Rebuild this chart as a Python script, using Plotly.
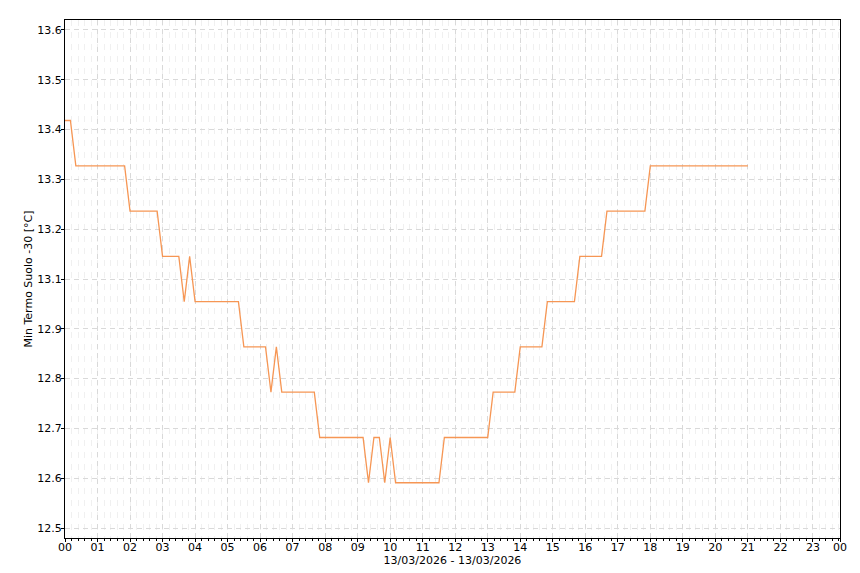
import plotly.graph_objects as go
import pandas as pd

# 10-minute samples from 00:00 to 21:00 on 13/03/2026
start_time = "2026-03-13 00:00"
sample_minutes = 10
values = [
    13.4, 13.4,
    13.3, 13.3, 13.3, 13.3, 13.3, 13.3, 13.3, 13.3, 13.3, 13.3,
    13.2, 13.2, 13.2, 13.2, 13.2, 13.2,
    13.1, 13.1, 13.1, 13.1,
    13.0, 13.1,
    13.0, 13.0, 13.0, 13.0, 13.0, 13.0, 13.0, 13.0, 13.0,
    12.9, 12.9, 12.9, 12.9, 12.9,
    12.8, 12.9,
    12.8, 12.8, 12.8, 12.8, 12.8, 12.8, 12.8,
    12.7, 12.7, 12.7, 12.7, 12.7, 12.7, 12.7, 12.7, 12.7,
    12.6, 12.7, 12.7, 12.6, 12.7,
    12.6, 12.6, 12.6, 12.6, 12.6, 12.6, 12.6, 12.6, 12.6,
    12.7, 12.7, 12.7, 12.7, 12.7, 12.7, 12.7, 12.7, 12.7,
    12.8, 12.8, 12.8, 12.8, 12.8,
    12.9, 12.9, 12.9, 12.9, 12.9,
    13.0, 13.0, 13.0, 13.0, 13.0, 13.0,
    13.1, 13.1, 13.1, 13.1, 13.1,
    13.2, 13.2, 13.2, 13.2, 13.2, 13.2, 13.2, 13.2,
    13.3, 13.3, 13.3, 13.3, 13.3, 13.3, 13.3, 13.3, 13.3, 13.3,
    13.3, 13.3, 13.3, 13.3, 13.3, 13.3, 13.3, 13.3, 13.3,
]
times = pd.date_range(start_time, periods=len(values), freq=f"{sample_minutes}min")

# y ticks (as drawn by the original chart)
y_tick_vals = [12.5, 12.61, 12.72, 12.83, 12.94, 13.05, 13.16, 13.27, 13.38, 13.49, 13.6]
y_tick_text = ["12.5", "12.6", "12.7", "12.8", "12.9", "13.1", "13.2", "13.3", "13.4", "13.5", "13.6"]
y_range = [12.478, 13.622]

# x ticks
x_range = ["2026-03-13 00:00", "2026-03-13 23:50"]
x_tick_vals = list(pd.date_range("2026-03-13 00:00", periods=24, freq="1h")) + [pd.Timestamp("2026-03-13 23:50")]
x_tick_text = [f"{h:02d}" for h in range(24)] + ["00"]

y_title = "Min Termo Suolo -30 [°C]"
x_title = "13/03/2026 - 13/03/2026"

fig = go.Figure()
fig.add_trace(go.Scatter(
    x=times, y=values, mode="lines",
    line=dict(color="rgb(246,150,84)", width=1.3),
    showlegend=False, hoverinfo="skip",
))

font = dict(family="DejaVu Sans", size=11, color="#000000")

fig.update_layout(
    width=860, height=573,
    margin=dict(l=65, r=20, t=20, b=35, autoexpand=False),
    paper_bgcolor="white", plot_bgcolor="white",
    font=font,
    xaxis=dict(
        type="date", range=x_range, automargin=False,
        tickmode="array", tickvals=x_tick_vals, ticktext=x_tick_text,
        ticks="outside", ticklen=3, tickcolor="#000", tickwidth=1,
        ticklabelstandoff=-4,
        showline=True, linecolor="#000", linewidth=1, mirror=True,
        showgrid=True, gridcolor="#d9d9d9", griddash="5px,4px", gridwidth=1,
        minor=dict(dtick=12 * 60 * 1000, showgrid=True, gridcolor="#f0f0f0",
                   griddash="6px,6px", ticks="outside", ticklen=2, tickcolor="#000"),
        title=dict(text=x_title, font=font, standoff=0),
        tickfont=font, zeroline=False,
    ),
    yaxis=dict(
        range=y_range, automargin=False,
        tickmode="array", tickvals=y_tick_vals, ticktext=y_tick_text,
        ticks="outside", ticklen=3, tickcolor="#000", tickwidth=1,
        ticklabelstandoff=-3,
        showline=True, linecolor="#000", linewidth=1, mirror=True,
        showgrid=True, gridcolor="#d9d9d9", griddash="5px,4px", gridwidth=1,
        title=dict(text=y_title, font=font, standoff=2),
        tickfont=font, zeroline=False,
    ),
)

fig.write_html("out.html", config={"displayModeBar": False},
               post_script="document.body.style.margin='0';")
